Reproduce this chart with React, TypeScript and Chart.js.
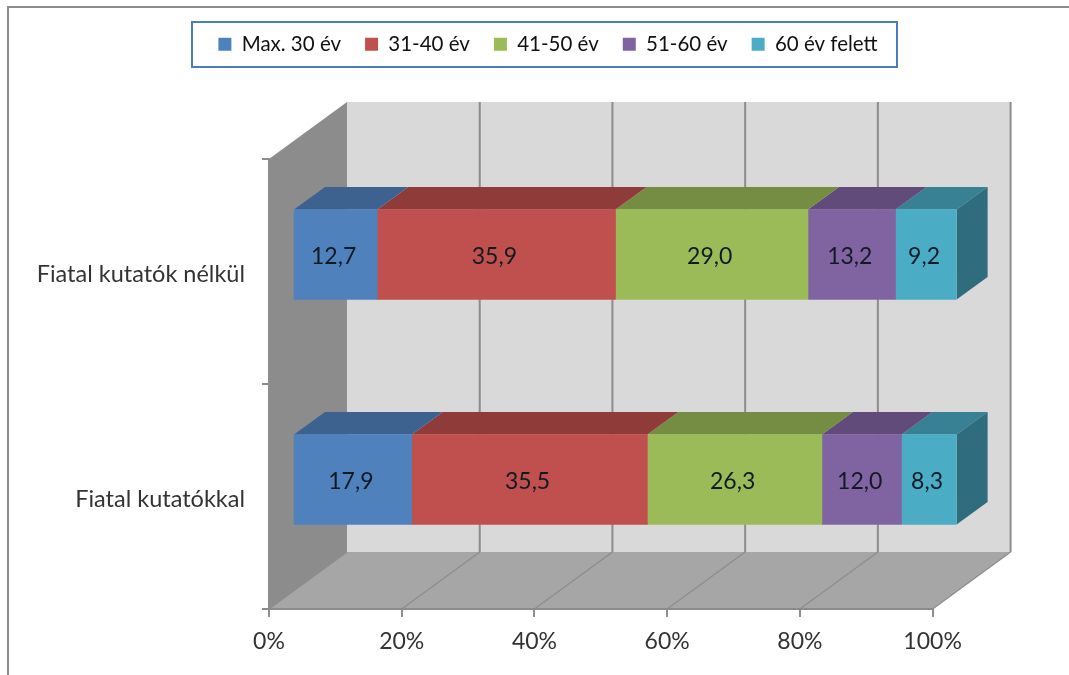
import React, { useEffect, useRef } from "react";
import { Chart, registerables } from "chart.js";

Chart.register(...registerables);

const categories = ["Fiatal kutatók nélkül", "Fiatal kutatókkal"];
const seriesNames = ["Max. 30 év", "31-40 év", "41-50 év", "51-60 év", "60 év felett"];
const max30 = [12.7, 17.9];
const from31to40 = [35.9, 35.5];
const from41to50 = [29.0, 26.3];
const from51to60 = [13.2, 12.0];
const over60 = [9.2, 8.3];
const seriesValues = [max30, from31to40, from41to50, from51to60, over60];
const frontColors = ["#4F81BD", "#C0504D", "#9BBB59", "#8064A2", "#4BACC6"];
const topColors = ["#3D6290", "#8F3B39", "#758D42", "#604B7A", "#388195"];
const sideColor = "#2F6C7E";

const FONT = "Lato, 'Open Sans', sans-serif";
const WALL = { dx: 78, dy: -57 };
const BAR_SHIFT = { dx: 24, dy: -17 };
const BAR_DEPTH = { dx: 31, dy: -22.5 };

function poly(ctx: CanvasRenderingContext2D, pts: number[][], fill: string) {
  ctx.beginPath();
  pts.forEach((p, i) => (i ? ctx.lineTo(p[0], p[1]) : ctx.moveTo(p[0], p[1])));
  ctx.closePath();
  ctx.fillStyle = fill;
  ctx.fill();
}

const scene3d = {
  id: "scene3d",
  beforeLayout(chart: any) {
    const legend = chart.legend;
    if (legend && !legend.__patched) {
      const fit = legend.fit;
      legend.fit = function () {
        fit.call(this);
        this.height = 159 - 10;
      };
      legend.__patched = true;
    }
  },
  afterLayout(chart: any) {
    const legend = chart.legend;
    // the row is centred between left and right; right is wide enough not to wrap
    legend.left = 96;
    legend.right = 1000;
  },
  beforeDraw(chart: any) {
    const { ctx, chartArea: a, scales } = chart;
    const { left: l, right: r, top: t, bottom: b } = a;
    const { dx, dy } = WALL;
    ctx.save();
    ctx.fillStyle = "#FFFFFF";
    ctx.fillRect(0, 0, chart.width, chart.height);

    // outer chart frame
    ctx.strokeStyle = "#8C8C8C";
    ctx.lineWidth = 2;
    ctx.beginPath();
    ctx.moveTo(8, 675);
    ctx.lineTo(8, 7);
    ctx.lineTo(1069, 7);
    ctx.stroke();

    // legend box
    ctx.strokeStyle = "#4A7EBB";
    ctx.lineWidth = 2;
    ctx.strokeRect(192, 22, 705, 45);

    // walls and floor
    poly(ctx, [[l + dx, t + dy], [r + dx, t + dy], [r + dx, b + dy], [l + dx, b + dy]], "#D9D9D9");
    poly(ctx, [[l, t], [l + dx, t + dy], [l + dx, b + dy], [l, b]], "#8C8C8C");
    poly(ctx, [[l, b], [l + dx, b + dy], [r + dx, b + dy], [r, b]], "#A6A6A6");

    // gridlines follow the value axis
    const x = scales.x;
    ctx.strokeStyle = "#8C8C8C";
    x.ticks.forEach((_: any, i: number) => {
      const px = x.getPixelForTick(i);
      ctx.lineWidth = 2;
      if (i > 0) {
        ctx.beginPath();
        ctx.moveTo(px + dx, t + dy);
        ctx.lineTo(px + dx, b + dy);
        ctx.stroke();
      }
      ctx.lineWidth = 1.2;
      ctx.beginPath();
      ctx.moveTo(px, b);
      ctx.lineTo(px + dx, b + dy);
      ctx.stroke();
    });
    ctx.restore();
  },
  beforeDatasetDraw(chart: any, args: any) {
    const { ctx } = chart;
    ctx.save();
    ctx.translate(BAR_SHIFT.dx, BAR_SHIFT.dy);
    const { dx, dy } = BAR_DEPTH;
    const last = chart.data.datasets.length - 1;
    args.meta.data.forEach((bar: any) => {
      const { x, y, base, height } = bar.getProps(["x", "y", "base", "height"], true);
      const top = y - height / 2;
      const bottom = y + height / 2;
      poly(ctx, [[base, top], [base + dx, top + dy], [x + dx, top + dy], [x, top]], topColors[args.index]);
      if (args.index === last) {
        poly(ctx, [[x, top], [x + dx, top + dy], [x + dx, bottom + dy], [x, bottom]], sideColor);
      }
    });
  },
  afterDatasetDraw(chart: any, args: any) {
    const { ctx } = chart;
    ctx.fillStyle = "#111A22";
    ctx.font = `23px ${FONT}`;
    ctx.textAlign = "center";
    ctx.textBaseline = "middle";
    args.meta.data.forEach((bar: any, i: number) => {
      const { x, y, base } = bar.getProps(["x", "y", "base"], true);
      const v = chart.data.datasets[args.index].data[i] as number;
      ctx.fillText(v.toFixed(1).replace(".", ","), (x + base) / 2 - 2, y + 2.5);
    });
    ctx.restore();
  },
};

export default function App() {
  const ref = useRef<HTMLCanvasElement>(null);
  useEffect(() => {
    const chart = new Chart(ref.current as HTMLCanvasElement, {
      type: "bar",
      data: {
        labels: categories,
        datasets: seriesNames.map((name, i) => ({
          label: name,
          data: seriesValues[i],
          backgroundColor: frontColors[i],
          borderWidth: 0,
          barThickness: 90,
          stack: "s",
        })),
      },
      options: {
        indexAxis: "y",
        responsive: false,
        animation: false,
        layout: { padding: { left: 0, right: 136.4, top: 10, bottom: 0 } },
        plugins: {
          tooltip: { enabled: false },
          legend: {
            display: true,
            position: "top",
            align: "center",
            labels: {
              boxWidth: 13,
              boxHeight: 13,
              padding: 24,
              color: "#111111",
              font: { family: FONT, size: 20.5 },
            },
          },
        },
        scales: {
          x: {
            stacked: true,
            min: 0,
            max: 100,
            afterFit(s: any) { s.height = 675 - 609; },
            border: { color: "#8C8C8C", width: 2 },
            grid: { drawOnChartArea: false, drawTicks: true, tickLength: 8, color: "#8C8C8C", lineWidth: 2 },
            ticks: {
              stepSize: 20,
              padding: 11,
              maxRotation: 0,
              color: "#333333",
              font: { family: FONT, size: 23 },
              callback: (v: any) => `${v}%`,
            },
          },
          y: {
            stacked: true,
            afterFit(s: any) { s.width = 269; },
            border: { color: "#8C8C8C", width: 2 },
            grid: { drawOnChartArea: false, drawTicks: true, tickLength: 7, offset: true, color: "#8C8C8C", lineWidth: 2 },
            ticks: {
              padding: 17,
              labelOffset: 3,
              color: "#333333",
              font: { family: FONT, size: 23.5 },
            },
          },
        },
      } as any,
      plugins: [scene3d as any],
    });
    return () => chart.destroy();
  }, []);
  return (
    <canvas
      ref={ref}
      width={1069}
      height={675}
      style={{ position: "fixed", left: 0, top: 0, display: "block", filter: "blur(0.5px)" }}
    />
  );
}
